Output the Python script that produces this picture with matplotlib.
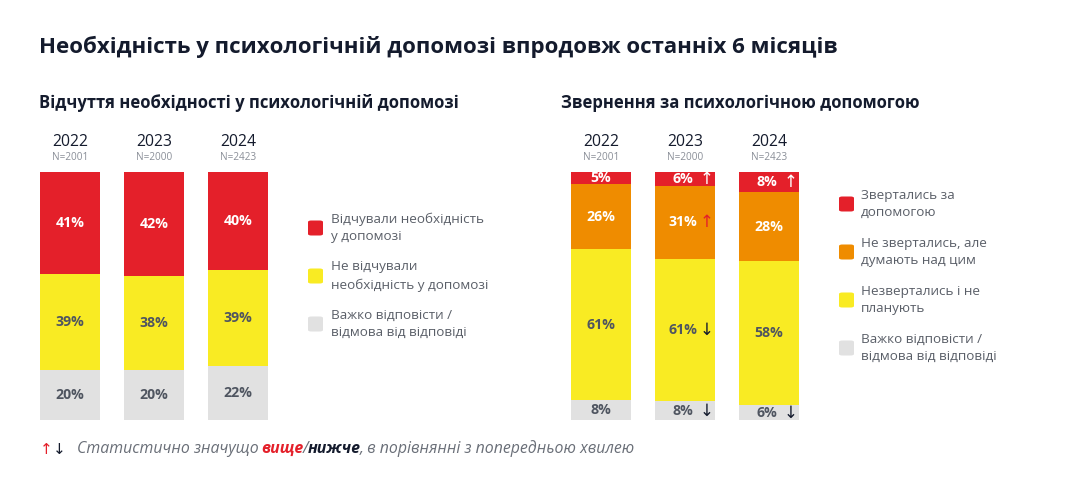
import matplotlib
matplotlib.use("Agg")
import matplotlib.pyplot as plt
from matplotlib.patches import FancyBboxPatch
import numpy as np

plt.rcParams['font.family'] = ['Open Sans', 'DejaVu Sans']

# ---------------- data ----------------
years = ["2022", "2023", "2024"]
samples = ["N=2001", "N=2000", "N=2423"]

# left chart: feeling of need
need_felt = [41, 42, 40]
need_not_felt = [39, 38, 39]
need_hard = [20, 20, 22]
left_labels = ["Відчували необхідність\nу допомозі",
               "Не відчували\nнеобхідність у допомозі",
               "Важко відповісти /\nвідмова від відповіді"]

# right chart: seeking help
sought = [5, 6, 8]
thinking = [26, 31, 28]
not_planning = [61, 61, 58]
seek_hard = [8, 8, 6]
right_labels = ["Звертались за\nдопомогою",
                "Не звертались, але\nдумають над цим",
                "Незвертались і не\nпланують",
                "Важко відповісти /\nвідмова від відповіді"]

# significance markers: (series index, bar index, direction)
right_marks = [(0, 1, "up"), (0, 2, "up"), (1, 1, "up"),
               (2, 1, "down"), (3, 1, "down"), (3, 2, "down")]

RED = "#E4202A"
YEL = "#F9EB23"
GRY = "#E1E1E1"
ORG = "#EF8C00"
DARK = "#141B2D"
TXT = "#5A5F68"
LBL = "#4F5560"

W, H = 1091, 487
fig = plt.figure(figsize=(W / 100, H / 100), dpi=100)
fig.patch.set_facecolor("white")


def fx(px):
    return px / W


def fy(py):
    return 1 - py / H


fig.text(fx(39), fy(47), "Необхідність у психологічній допомозі впродовж останніх 6 місяців",
         fontsize=16, fontweight="bold", color=DARK, va="center", ha="left")
fig.text(fx(39), fy(103), "Відчуття необхідності у психологічній допомозі",
         fontsize=12, fontweight="bold", color=DARK, va="center", ha="left")
fig.text(fx(561), fy(103), "Звернення за психологічною допомогою",
         fontsize=12, fontweight="bold", color=DARK, va="center", ha="left")


def stacked(ax_left_px, series, colors, label_colors, marks):
    ax = fig.add_axes([fx(ax_left_px), fy(420), fx(228), 248 / H])
    data = np.array(series, dtype=float)
    totals = data.sum(axis=0)
    share = data / totals * 100
    x = np.arange(len(years))
    bottom = np.zeros(len(years))
    centers = []
    for i, s in enumerate(share):
        ax.bar(x, s, bottom=bottom, width=60 / 84, color=colors[i], linewidth=0)
        centers.append(bottom + s / 2)
        bottom = bottom + s
    ax.set_xlim(-30 / 84, 2 + 30 / 84)
    ax.set_ylim(100, 0)
    ax.axis("off")
    markset = {(m[0], m[1]): m[2] for m in marks}
    for i, s in enumerate(series):
        for j, v in enumerate(s):
            key = (i, j)
            col = label_colors[i]
            if key in markset:
                ax.text(j - 0.03, centers[i][j], f"{v}%", ha="center", va="center",
                        fontsize=10.2, fontweight="bold", color=col)
                d = markset[key]
                if colors[i] == RED:
                    acol = "white"
                elif d == "up":
                    acol = RED
                else:
                    acol = DARK
                ax.text(j + 0.26, centers[i][j], "↑" if d == "up" else "↓",
                        ha="center", va="center", fontsize=12, color=acol,
                        family="DejaVu Sans")
            else:
                ax.text(j, centers[i][j], f"{v}%", ha="center", va="center",
                        fontsize=10.2, fontweight="bold", color=col)
    for j in range(len(years)):
        ax.text(j, -12.0, years[j], ha="center", va="center", fontsize=11.3,
                color=DARK, clip_on=False)
        ax.text(j, -5.7, samples[j], ha="center", va="center", fontsize=7.2,
                color="#8A8F98", clip_on=False)
    return ax


stacked(40, [need_felt, need_not_felt, need_hard], [RED, YEL, GRY],
        ["white", LBL, LBL], [])
stacked(571, [sought, thinking, not_planning, seek_hard], [RED, ORG, YEL, GRY],
        ["white", "white", LBL, LBL], right_marks)


def legend(x_sq, x_txt, ys, labels, colors):
    for y, lab, c in zip(ys, labels, colors):
        sq = FancyBboxPatch((fx(x_sq), fy(y + 7.5)), fx(15), 15 / H,
                            boxstyle="round,pad=0,rounding_size=0.003",
                            transform=fig.transFigure, facecolor=c, edgecolor="none")
        fig.patches.append(sq)
        fig.text(fx(x_txt), fy(y), lab, fontsize=9.7, color=TXT, va="center",
                 ha="left", linespacing=1.45)


legend(308, 331, [228, 276, 324], left_labels, [RED, YEL, GRY])
legend(839, 861, [204, 252, 300, 348], right_labels, [RED, ORG, YEL, GRY])

# footnote
fig.canvas.draw()
r = fig.canvas.get_renderer()
FY = fy(449)
FS = 11.4
up = fig.text(fx(40), FY, "↑", fontsize=11, color=RED, va="center", ha="left",
              family="DejaVu Sans")
fig.canvas.draw()
ub = up.get_window_extent(r)
fig.text(ub.x1 / fig.bbox.width + 0.0005, FY, "↓", fontsize=11, color=DARK, va="center",
         ha="left", family="DejaVu Sans")
t1 = fig.text(fx(77), FY, "Статистично значущо ", fontsize=FS, style="italic",
              color="#6A6F78", va="center", ha="left")
t2 = fig.text(0, 0, "вище", fontsize=FS, style="italic", fontweight="bold", color=RED)
t3 = fig.text(0, 0, "/", fontsize=FS, style="italic", color="#6A6F78")
t4 = fig.text(0, 0, "нижче", fontsize=FS, style="italic", fontweight="bold", color=DARK)
t5 = fig.text(0, 0, ", в порівнянні з попередньою хвилею", fontsize=FS, style="italic",
              color="#6A6F78")
fig.canvas.draw()
prev = t1
for t in [t2, t3, t4, t5]:
    bb = prev.get_window_extent(r)
    x1 = bb.x1 / fig.bbox.width
    t.set_position((x1 - 0.001, FY))
    t.set_va("center")
    t.set_ha("left")
    fig.canvas.draw()
    prev = t

fig.savefig("out.png", dpi=100, facecolor="white")
